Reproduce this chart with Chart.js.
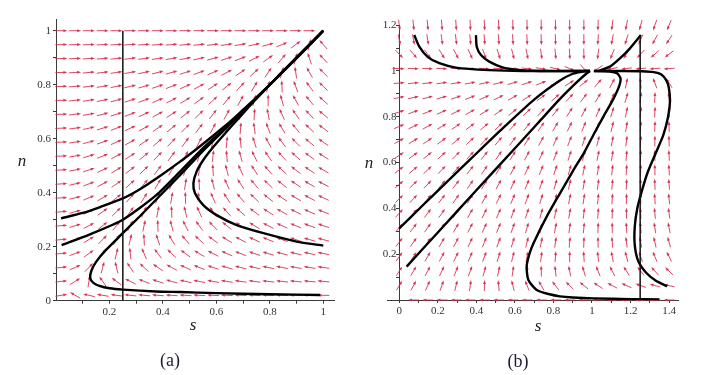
<!DOCTYPE html>
<html>
<head>
<meta charset="utf-8">
<script src="https://cdn.jsdelivr.net/npm/chart.js@4.4.1/dist/chart.umd.min.js"></script>
<style>
  html, body { margin: 0; padding: 0; background: #fff; }
  #wrap { position: relative; width: 712px; height: 375px; overflow: hidden; }
  .panel { position: absolute; top: 0; width: 356px; height: 375px; }
  .cap { position: absolute; width: 60px; text-align: center; font-family: "Liberation Serif", serif; font-size: 18px; line-height: 20px; color: #1c1c33; }
</style>
</head>
<body>
<div id="wrap">
  <div class="panel" style="left:0"><canvas id="chartA" width="356" height="375"></canvas></div>
  <div class="panel" style="left:356px"><canvas id="chartB" width="356" height="375"></canvas></div>
  <div class="cap" style="left:140px;top:350px">(a)</div>
  <div class="cap" style="left:488px;top:351px">(b)</div>
</div>
<script>
// ---------------------------------------------------------------
// DATA
// ---------------------------------------------------------------

// panel (a) axes
const labelsAx = [0.2, 0.4, 0.6, 0.8, 1];
const ticksAx = [0.1, 0.2, 0.3, 0.4, 0.5, 0.6, 0.7, 0.8, 0.9, 1];
const labelsAy = [0, 0.2, 0.4, 0.6, 0.8, 1];
const ticksAy = [0, 0.1, 0.2, 0.3, 0.4, 0.5, 0.6, 0.7, 0.8, 0.9, 1];

// panel (b) axes
const labelsBx = [0, 0.2, 0.4, 0.6, 0.8, 1, 1.2, 1.4];
const ticksBx = [0, 0.1, 0.2, 0.3, 0.4, 0.5, 0.6, 0.7, 0.8, 0.9, 1, 1.1, 1.2, 1.3, 1.4];
const labelsBy = [0.2, 0.4, 0.6, 0.8, 1, 1.2];
const ticksBy = [0.1, 0.2, 0.3, 0.4, 0.5, 0.6, 0.7, 0.8, 0.9, 1, 1.1, 1.2];

// vertical marker lines [s, nTop]
const markerA = [0.25, 1];
const markerB = [1.25, 1.157];

// trajectories, panel (a): [s, n]
const curveA1 = [[0.019, 0.305], [0.1, 0.325], [0.165, 0.347], [0.25, 0.379], [0.314, 0.413], [0.389, 0.462],
  [0.464, 0.515], [0.526, 0.562], [0.589, 0.612], [0.65, 0.662], [0.738, 0.742], [0.8, 0.8], [0.875, 0.873],
  [0.95, 0.948], [1.0, 1.0]];
const curveA2 = [[0.021, 0.206], [0.125, 0.245], [0.25, 0.3], [0.374, 0.39], [0.464, 0.478], [0.55, 0.565],
  [0.65, 0.655], [0.75, 0.75], [0.85, 0.85], [1.0, 1.0]];
const curveA3 = [[0.988, 0.021], [0.8, 0.024], [0.6, 0.028], [0.464, 0.032], [0.374, 0.034], [0.25, 0.041],
  [0.2, 0.046], [0.162, 0.055], [0.14, 0.066], [0.128, 0.083], [0.132, 0.11], [0.15, 0.144], [0.187, 0.188],
  [0.25, 0.25], [0.312, 0.311], [0.374, 0.374], [0.464, 0.465], [0.55, 0.555], [0.65, 0.652], [0.8, 0.8],
  [0.9, 0.9], [1.0, 1.0]];
const curveA4 = [[1.0, 0.204], [0.9, 0.219], [0.776, 0.25], [0.676, 0.28], [0.601, 0.317], [0.551, 0.354],
  [0.52, 0.398], [0.514, 0.435], [0.526, 0.478], [0.551, 0.521], [0.589, 0.57], [0.638, 0.626], [0.688, 0.681],
  [0.74, 0.738], [0.85, 0.85], [1.0, 1.0]];

// trajectories, panel (b): [s, n]
const curveB1 = [[0.078, 1.157], [0.104, 1.106], [0.147, 1.062], [0.208, 1.034], [0.294, 1.015], [0.467, 1.004],
  [0.64, 1.0], [0.99, 1.0]];
const curveB2 = [[0.398, 1.157], [0.402, 1.106], [0.424, 1.07], [0.467, 1.041], [0.536, 1.016], [0.606, 1.006],
  [0.727, 1.0], [0.99, 1.0]];
const curveB3 = [[0.0, 0.313], [0.125, 0.416], [0.25, 0.518], [0.419, 0.655], [0.55, 0.76], [0.7, 0.875],
  [0.834, 0.958], [0.9, 0.988], [0.96, 0.999], [0.99, 1.0]];
const curveB4 = [[0.038, 0.146], [0.2, 0.295], [0.4, 0.479], [0.592, 0.655], [0.72, 0.773], [0.834, 0.878],
  [0.92, 0.95], [0.97, 0.988], [0.99, 1.0]];
const curveB5 = [[1.35, 0.002], [1.2, 0.004], [1.007, 0.007], [0.9, 0.011], [0.834, 0.016], [0.78, 0.025],
  [0.713, 0.044], [0.67, 0.087], [0.661, 0.146], [0.675, 0.2], [0.696, 0.247], [0.765, 0.364], [0.834, 0.466],
  [0.9, 0.562], [0.96, 0.645], [1.01, 0.725], [1.06, 0.802], [1.11, 0.876], [1.142, 0.936], [1.148, 0.968],
  [1.13, 0.99], [1.093, 0.998], [1.01, 1.0]];
const curveB6 = [[1.39, 0.06], [1.33, 0.085], [1.28, 0.12], [1.24, 0.17], [1.222, 0.24], [1.222, 0.32],
  [1.235, 0.4], [1.26, 0.48], [1.29, 0.56], [1.33, 0.64], [1.37, 0.72], [1.395, 0.8], [1.405, 0.87],
  [1.398, 0.93], [1.385, 0.96], [1.36, 0.985], [1.32, 0.995], [1.26, 0.999], [1.15, 1.0], [1.01, 1.0]];
const curveB7 = [[1.03, 0.999], [1.093, 1.019], [1.145, 1.055], [1.197, 1.099], [1.254, 1.157]];

// direction-field sample grids: [from, to, count]
const fieldGridA = { s: [0.02, 1, 20], n: [0.02, 1, 20] };
const fieldGridB = { s: [0, 1.4, 20], n: [0, 1.2, 20] };

// slope of the system in each panel (ds/dt, dn/dt)
function slopeA(s, n) {
  return [n - Math.pow(s, 1.3), n * (1 - n) * 1.2 * (1 - Math.exp(-s / 0.2))];
}

function slopeB(s, n) {
  if (n <= 1) {
    const q = 0.1 + 0.6 * n + 0.3 * Math.pow(n, 20);
    const k = 1.5 + 1.5 * n * s - 1.1 * s * Math.pow(1 - n, 4);
    return [n - s * q, n * (1 - n) * k];
  }
  const d = n - 1;
  const e = Math.exp(-d / 0.03);
  return [(1 - s) * (e + 0.05) + Math.min(0, 1 - s), -n * d * (1.5 + 1.5 * s)];
}

// ---------------------------------------------------------------
// HELPERS
// ---------------------------------------------------------------

const AXIS = '#3a3a3a';
const TICK_FONT = { family: 'Liberation Serif', size: 11 };
const ARROW = 'rgba(214, 40, 72, 0.85)';

function gridValues([from, to, count]) {
  const out = [];
  for (let i = 0; i < count; i++) out.push(from + (to - from) * i / (count - 1));
  return out;
}

function fmt(v) {
  return Math.abs(v - Math.round(v)) < 1e-9 ? String(Math.round(v)) : v.toFixed(1);
}

function labelFor(list, suffix = '') {
  return (v) => (list.some((t) => Math.abs(t - v) < 1e-6) ? fmt(v) + suffix : '');
}

function curveSet(points, width = 2.4) {
  return {
    data: points.map(([s, n]) => ({ x: s, y: n })),
    showLine: true,
    borderColor: '#000',
    borderWidth: width,
    pointRadius: 0,
    tension: 0.22,
    fill: false
  };
}

function markerSet([s, top]) {
  return {
    data: [{ x: s, y: 0 }, { x: s, y: top }],
    showLine: true,
    borderColor: '#111',
    borderWidth: 1.5,
    pointRadius: 0,
    tension: 0
  };
}

function arrowField(slope, grid, len) {
  const sVals = gridValues(grid.s);
  const nVals = gridValues(grid.n);
  return {
    id: 'arrowField',
    beforeDatasetsDraw(chart) {
      const { ctx, scales: { x, y } } = chart;
      const kx = x.getPixelForValue(1) - x.getPixelForValue(0);
      const ky = y.getPixelForValue(1) - y.getPixelForValue(0);
      ctx.save();
      ctx.strokeStyle = ARROW;
      ctx.fillStyle = ARROW;
      ctx.lineWidth = 1;
      sVals.forEach((s) => nVals.forEach((n) => {
        const [ds, dn] = slope(s, n);
        let dx = ds * kx, dy = dn * ky;
        const m = Math.hypot(dx, dy);
        if (m < 1e-9) return;
        dx /= m; dy /= m;
        const cx = x.getPixelForValue(s), cy = y.getPixelForValue(n);
        const x0 = cx - dx * len / 2, y0 = cy - dy * len / 2;
        const x1 = cx + dx * len / 2, y1 = cy + dy * len / 2;
        ctx.beginPath();
        ctx.moveTo(x0, y0);
        ctx.lineTo(x1 - dx * 2, y1 - dy * 2);
        ctx.stroke();
        ctx.beginPath();
        ctx.moveTo(x1, y1);
        ctx.lineTo(x1 - dx * 4 - dy * 1.5, y1 - dy * 4 + dx * 1.5);
        ctx.lineTo(x1 - dx * 4 + dy * 1.5, y1 - dy * 4 - dx * 1.5);
        ctx.closePath();
        ctx.fill();
      }));
      ctx.restore();
    }
  };
}

function axisTitles(items) {
  return {
    id: 'axisTitles',
    afterDraw(chart) {
      const { ctx } = chart;
      ctx.save();
      ctx.fillStyle = '#222';
      ctx.font = 'italic 17px "Liberation Serif", serif';
      ctx.textAlign = 'center';
      ctx.textBaseline = 'middle';
      items.forEach(([text, px, py]) => ctx.fillText(text, px, py));
      ctx.restore();
    }
  };
}

function axisOpts(min, max, ticks, labels, extra) {
  return Object.assign({
    type: 'linear',
    min,
    max,
    afterBuildTicks: (scale) => { scale.ticks = ticks.map((v) => ({ value: v })); },
    grid: { drawOnChartArea: false, drawTicks: true, tickLength: 3, color: AXIS, lineWidth: 1 },
    border: { display: true, color: AXIS, width: 1 },
    ticks: { autoSkip: false, maxRotation: 0, padding: 2, color: '#333', font: TICK_FONT, callback: labelFor(labels) }
  }, extra || {});
}

const common = {
  responsive: false,
  animation: false,
  devicePixelRatio: 1,
  events: [],
  plugins: { legend: { display: false }, tooltip: { enabled: false } }
};

// ---------------------------------------------------------------
// PANEL (a)
// ---------------------------------------------------------------

new Chart(document.getElementById('chartA'), {
  type: 'scatter',
  data: {
    datasets: [
      markerSet(markerA),
      curveSet(curveA1), curveSet(curveA2), curveSet(curveA3), curveSet(curveA4)
    ]
  },
  options: Object.assign({}, common, {
    layout: { padding: { top: 19.9, right: 22, left: 0, bottom: 0 } },
    scales: {
      x: axisOpts(0, 1.04, ticksAx, labelsAx, { afterFit: (s) => { s.height = 74.3; } }),
      y: axisOpts(0, 1.04, ticksAy, labelsAy, { afterFit: (s) => { s.width = 56; } })
    }
  }),
  plugins: [arrowField(slopeA, fieldGridA, 12), axisTitles([['n', 22, 162], ['s', 193, 326]])]
});

// ---------------------------------------------------------------
// PANEL (b)
// ---------------------------------------------------------------

const yB = axisOpts(0, 1.2, ticksBy, labelsBy, { position: { x: 0 } });
yB.ticks.callback = labelFor(labelsBy, ' ');

new Chart(document.getElementById('chartB'), {
  type: 'scatter',
  data: {
    datasets: [
      markerSet(markerB),
      curveSet(curveB1), curveSet(curveB2), curveSet(curveB3), curveSet(curveB4),
      curveSet(curveB5), curveSet(curveB6), curveSet(curveB7)
    ]
  },
  options: Object.assign({}, common, {
    layout: { padding: { top: 25.2, right: 33.3, left: 31.7, bottom: 0 } },
    scales: {
      x: axisOpts(-0.06, 1.45, ticksBx, labelsBx, { afterFit: (s) => { s.height = 75; } }),
      y: yB
    }
  }),
  plugins: [arrowField(slopeB, fieldGridB, 11), axisTitles([['n', 13, 164], ['s', 182, 327]])]
});
</script>
</body>
</html>
